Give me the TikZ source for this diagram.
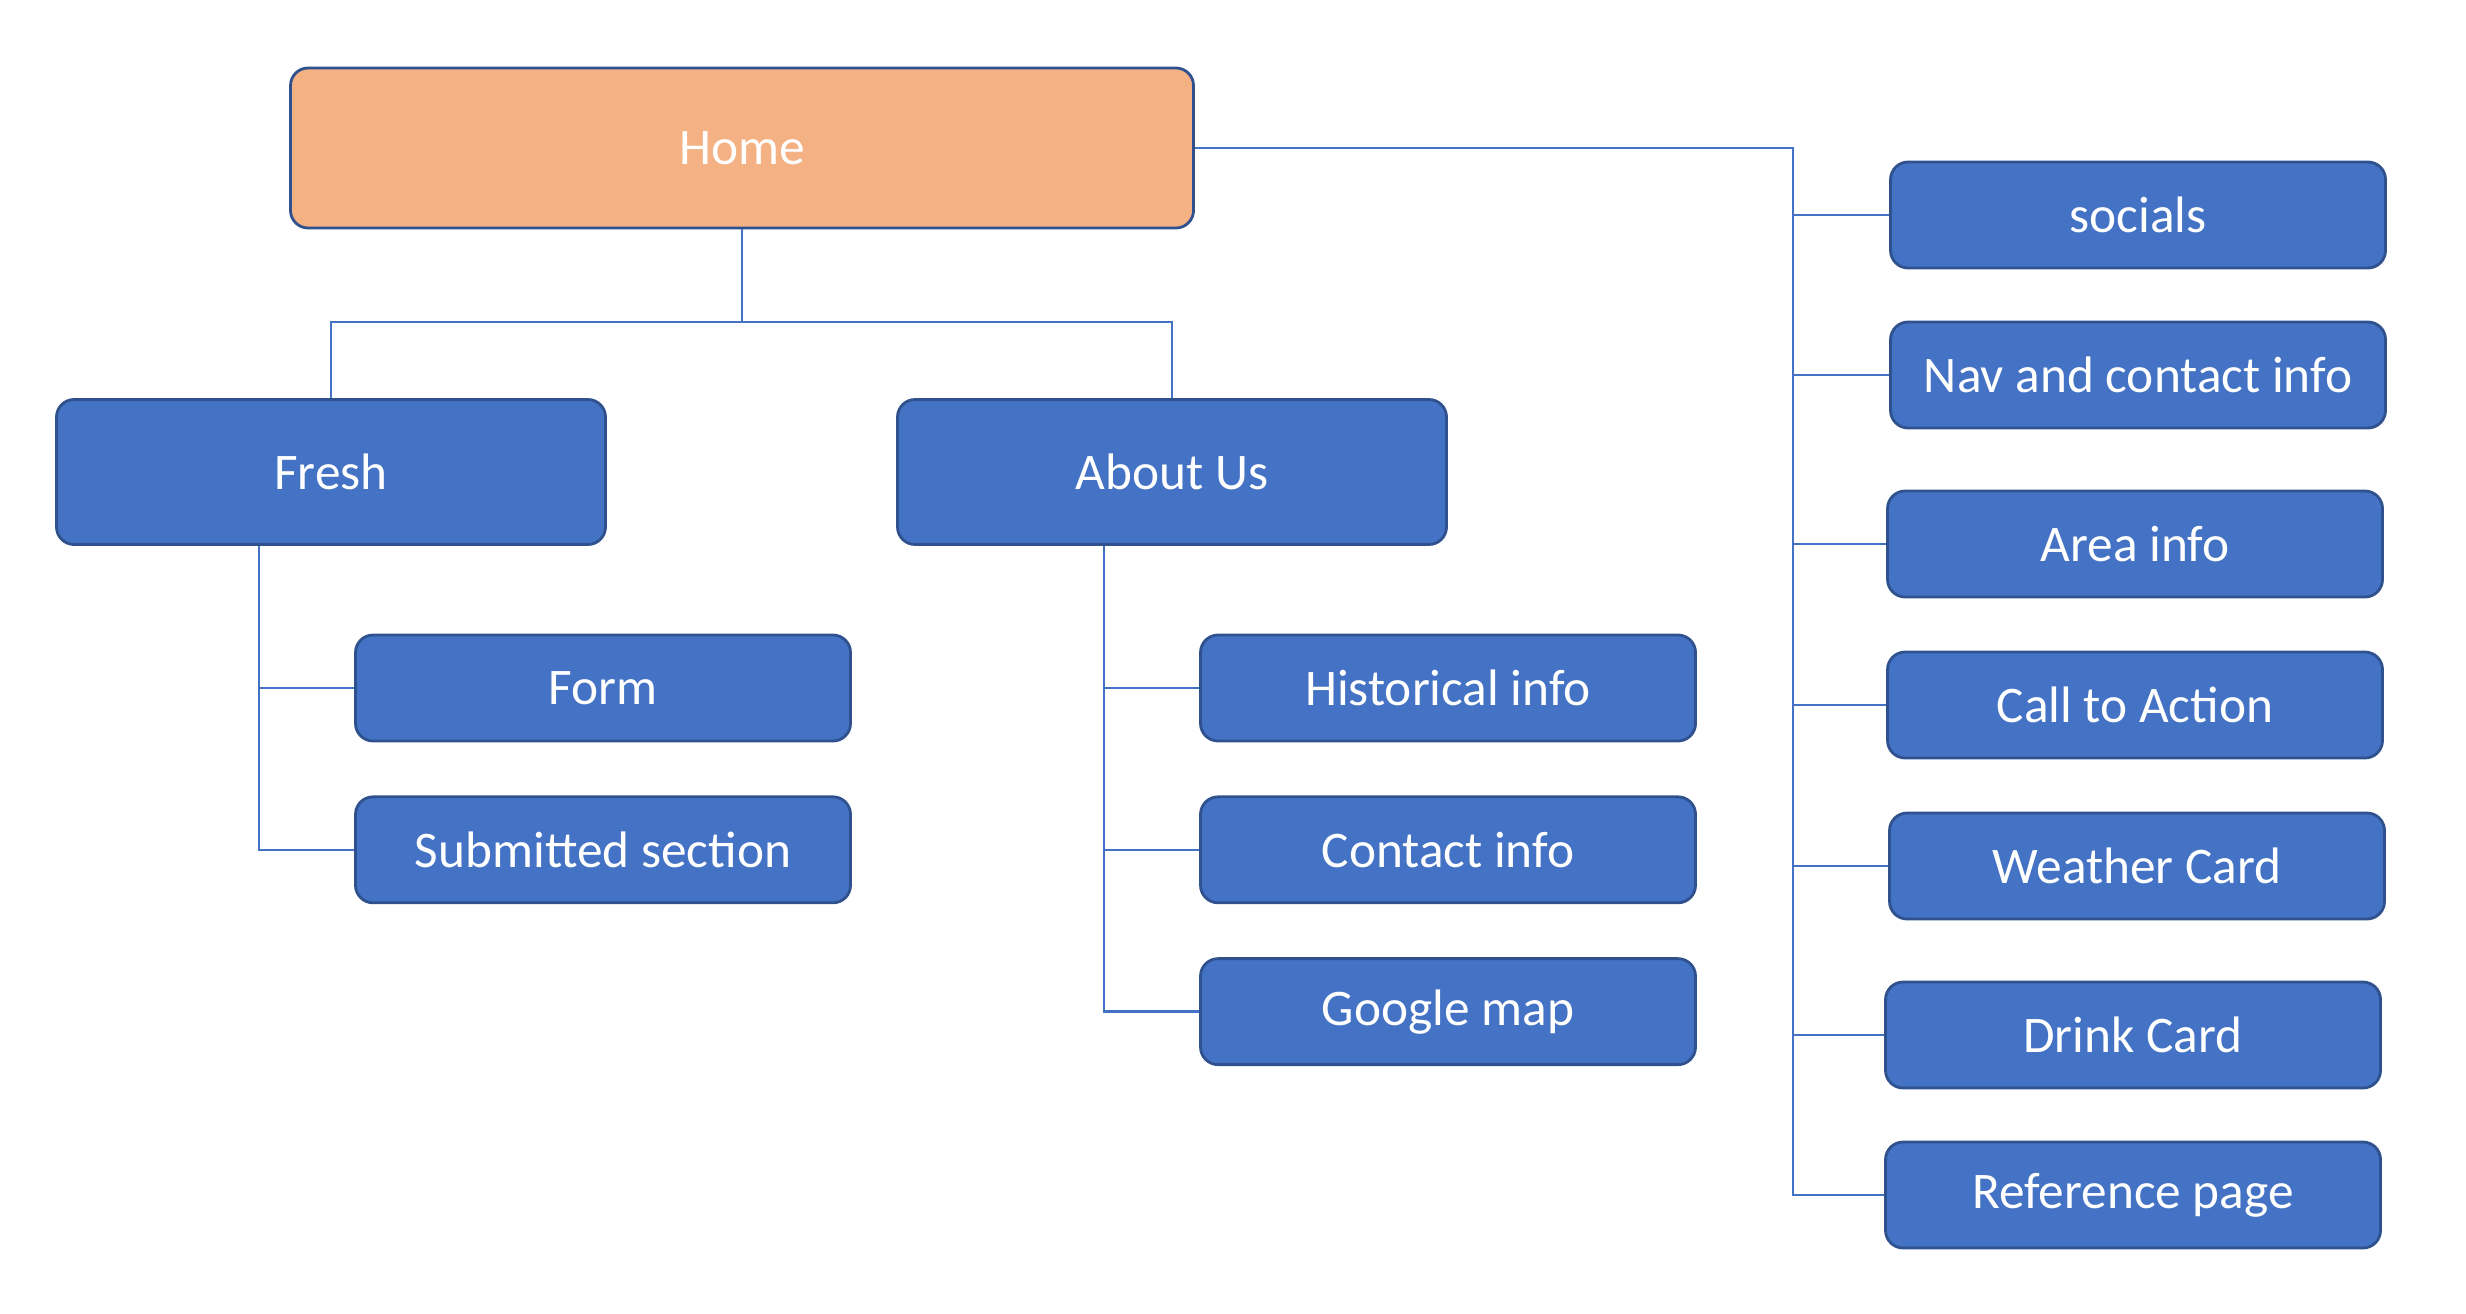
\documentclass[tikz,border=0pt]{standalone}
\usepackage{fontspec}
\setmainfont{Carlito}
\usepackage{xcolor}
\usepackage{tikz}
\usetikzlibrary{positioning,calc}
\definecolor{cbox}{HTML}{4472C4}
\definecolor{cedge}{HTML}{2F528F}
\definecolor{chome}{HTML}{F4B183}

\begin{document}
\begin{tikzpicture}[
  font=\fontsize{14.6}{17}\selectfont,
  page/.style={rectangle, rounded corners=5pt, draw=cedge, fill=cbox,
               line width=0.8pt, text=white, align=center,
               minimum width=4.95cm, minimum height=1.06cm},
  section/.style={page, minimum width=5.49cm, minimum height=1.45cm},
  root/.style={section, fill=chome, minimum width=9.03cm, minimum height=1.60cm},
  link/.style={draw=cbox, line width=0.7pt}
]
\useasboundingbox (0,0) rectangle (24.66,-13.13);

% Root
\node[root] (home) at (7.42,-1.48) {Home};

% Second level
\node[section] (fresh) at (3.31,-4.72) {Fresh};
\node[section] (about) at (11.72,-4.72) {About Us};

% Fresh pages
\node[page] (form) at (6.03,-6.88) {Form};
\node[page, below=0.53cm of form] (submitted) {Submitted section};

% About Us pages
\node[page] (history) at (14.48,-6.88) {Historical info};
\node[page, below=0.53cm of history] (contact) {Contact info};
\node[page, below=0.53cm of contact] (gmap) {Google map};

% Home sections
\node[page] (socials) at (21.38,-2.15) {socials};
\node[page] (nav) at (21.38,-3.75) {Nav and contact info};
\node[page] (area) at (21.35,-5.44) {Area info};
\node[page] (action) at (21.35,-7.05) {Call to Action};
\node[page] (weather) at (21.37,-8.66) {Weather Card};
\node[page] (drink) at (21.33,-10.35) {Drink Card};
\node[page] (reference) at (21.33,-11.95) {Reference page};

% Bus and spines
\coordinate (bus) at (0,-3.22);
\coordinate (fspine) at (2.59,0);
\coordinate (aspine) at (11.04,0);
\coordinate (rspine) at (17.93,-1.48);

% Home to second level
\draw[link] (home.south) -- (home.south |- bus);
\draw[link] (fresh.north) -- (fresh.north |- bus) -- (about.north |- bus) -- (about.north);

% Fresh branch
\draw[link] (fspine |- fresh.south) |- (submitted.west);
\draw[link] (fspine |- form.west) -- (form.west);

% About Us branch
\draw[link] (aspine |- about.south) |- (gmap.west);
\foreach \n in {history,contact}
  \draw[link] (aspine |- \n.west) -- (\n.west);

% Right branch
\draw[link] (home.east) -- (rspine) |- (reference.west);
\foreach \n in {socials,nav,area,action,weather,drink}
  \draw[link] (rspine |- \n.west) -- (\n.west);

\end{tikzpicture}
\end{document}
